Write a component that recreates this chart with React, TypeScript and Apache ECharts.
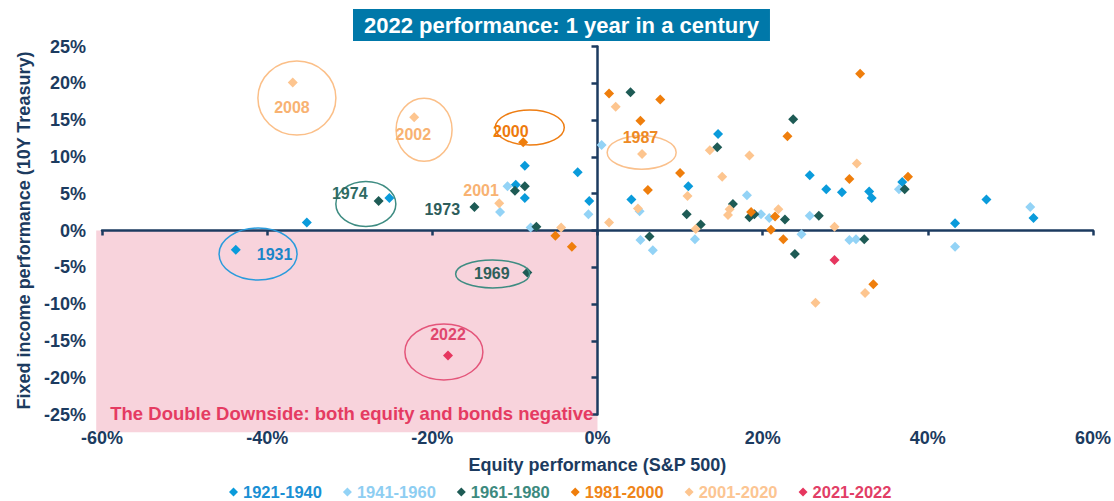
import React, { useEffect, useRef } from "react";
import * as echarts from "echarts";

// ---------- data ----------
const periods = ["1921-1940", "1941-1960", "1961-1980", "1981-2000", "2001-2020", "2021-2022"];

// [S&P 500 return %, 10Y Treasury return %]
const p1921_1940 = [
  [-8.8, 8.8], [-2.4, 7.9], [-9.9, 6.2], [-8.8, 4.4], [-1.0, 4.0], [-25.2, 4.4], [-35.2, 1.1],
  [-43.8, -2.6], [4.1, 4.2], [11.0, 6.0], [14.6, 13.1], [25.7, 7.5], [27.7, 5.6], [29.6, 5.2],
  [32.9, 5.3], [33.2, 4.4], [36.9, 6.6], [43.3, 1.0], [47.1, 4.2], [52.8, 1.7],
];
const p1941_1960 = [
  [0.5, 11.6], [-10.9, 6.0], [-11.8, 2.5], [-1.1, 2.2], [-8.1, 0.4], [5.2, -1.3], [6.7, -2.7],
  [11.8, -1.2], [5.1, 2.6], [18.1, 4.8], [19.8, 2.2], [20.8, 1.7], [25.7, 2.0], [24.7, -0.5],
  [30.5, -1.3], [31.3, -1.2], [36.5, 5.6], [43.3, -2.2], [52.4, 3.2],
];
const p1961_1980 = [
  [-26.5, 4.0], [-14.9, 3.2], [-10.0, 5.4], [-8.8, 6.0], [-7.4, 0.5], [-8.5, -5.7], [4.0, 18.8],
  [6.3, -0.8], [10.8, 2.2], [12.5, 0.8], [14.5, 11.3], [16.4, 3.6], [18.4, 1.8], [19.0, 2.2],
  [22.7, 1.5], [23.7, 15.1], [23.9, -3.2], [26.8, 2.0], [32.3, -1.2], [37.2, 5.6],
];
const p1981_2000 = [
  [-9.0, 12.0], [-5.1, -0.7], [-3.1, -2.2], [1.4, 18.6], [7.6, 17.8], [5.2, 14.9], [6.1, 5.5],
  [10.0, 7.8], [18.6, 2.5], [21.5, 1.9], [21.0, 0.1], [22.5, -1.2], [23.0, 12.8], [31.8, 21.3],
  [30.5, 7.0], [37.6, 7.3], [33.4, -7.3],
];
const p2001_2020 = [
  [-36.9, 20.1], [-22.2, 15.4], [-11.9, 3.7], [-4.4, 0.4], [2.2, 16.8], [5.4, 10.4], [1.4, 1.1],
  [4.9, 3.0], [10.9, 4.7], [11.9, 0.2], [13.6, 10.9], [15.1, 7.3], [16.0, 2.9], [15.8, 2.1],
  [18.4, 10.2], [21.9, 2.9], [28.7, 0.5], [31.4, 9.1], [32.4, -8.5], [26.4, -9.8],
];
const p2021_2022 = [[28.7, -4.0], [-18.1, -17.0]];

const seriesData = [p1921_1940, p1941_1960, p1961_1980, p1981_2000, p2001_2020, p2021_2022];

const xMin = -60, xMax = 60, xStep = 20;
const yMin = -25, yMax = 25, yStep = 5;

const TITLE = "2022 performance: 1 year in a century";
const X_NAME = "Equity performance (S&P 500)";
const Y_NAME = "Fixed income performance (10Y Treasury)";
const DOWNSIDE = "The Double Downside: both equity and bonds negative";

// annotation texts (year labels) and anchors in data units
const labelTexts = ["2008", "2002", "2000", "1987", "2001", "1974", "1973", "1931", "1969", "2022"];
const labelAnchors = [
  [-37.0, 16.7], [-22.3, 13.1], [-10.5, 13.4], [5.2, 12.7], [-14.1, 5.4],
  [-30.0, 5.05], [-18.8, 2.9], [-39.1, -3.3], [-12.8, -5.8], [-18.1, -14.1],
];
const ringAnchors = [
  [-36.4, 18.0], [-21.0, 13.7], [-8.2, 14.0], [5.35, 10.6], [-28.05, 3.6],
  [-41.1, -3.2], [-12.7, -5.9], [-18.6, -16.5],
];

// ---------- styles ----------
const pointColors = ["#0A9BDB", "#93D3F6", "#1E5B55", "#EF7E0C", "#FDC58F", "#E6365F"];
const legendTextColors = ["#1A90D4", "#8ECEF2", "#3D8A7F", "#EF8519", "#FCC592", "#E23E66"];
const labelColors = ["#F8B272", "#F8B272", "#EE7A0C", "#EE8A24", "#F8B272", "#2E6B63", "#2E5D5B", "#1B86C8", "#2E5F5A", "#E0466D"];
const ringStyles = [
  { rx: 39, ry: 37, color: "#FBBF88" },
  { rx: 28, ry: 31.5, color: "#FBBF88" },
  { rx: 34.5, ry: 17.5, color: "#EE7D12" },
  { rx: 34.5, ry: 16.7, color: "#FAC08C" },
  { rx: 30, ry: 22.5, color: "#3E8C82" },
  { rx: 39, ry: 26, color: "#2A9BDC" },
  { rx: 37, ry: 14, color: "#3E8C82" },
  { rx: 39, ry: 28, color: "#E4557A" },
];
const NAVY = "#1C3B60";
const FONT = "'Liberation Sans', Arial, sans-serif";

export default function App() {
  const ref = useRef<HTMLDivElement>(null);

  useEffect(() => {
    const chart = echarts.init(ref.current!, null, { renderer: "svg" });
    const pct = (v: number) => `${v}%`;

    chart.setOption({
      animation: false,
      backgroundColor: "#ffffff",
      textStyle: { fontFamily: FONT },
      title: {
        text: TITLE,
        left: 353,
        top: 9,
        padding: [5, 11, 5, 11],
        backgroundColor: "#0078A9",
        textStyle: { color: "#ffffff", fontSize: 22, fontWeight: "bold", fontFamily: FONT, lineHeight: 22 },
      },
      grid: { left: 102, right: 20, top: 46.5, bottom: 86.5 },
      legend: {
        left: 229,
        top: 483,
        padding: 0,
        icon: "diamond",
        itemWidth: 9,
        itemHeight: 9,
        itemGap: 21,
        selectedMode: false,
        data: periods.map((p, i) => ({ name: p, textStyle: { color: legendTextColors[i] } })),
        textStyle: { fontSize: 16.5, fontWeight: "bold", fontFamily: FONT, lineHeight: 18 },
      },
      xAxis: [
        {
          type: "value", min: xMin, max: xMax, interval: xStep,
          axisLine: { onZero: true, onZeroAxisIndex: 0, lineStyle: { color: NAVY, width: 2.5 } },
          axisTick: { show: true, length: 5, lineStyle: { color: NAVY, width: 2.5 } },
          axisLabel: { show: false },
          splitLine: { show: false },
        },
        {
          type: "value", min: xMin, max: xMax, interval: xStep, position: "bottom",
          axisLine: { show: false, onZero: false },
          axisTick: { show: false },
          splitLine: { show: false },
          axisLabel: { formatter: pct, margin: 14, color: NAVY, fontSize: 18, fontWeight: "bold", fontFamily: FONT },
          name: X_NAME, nameLocation: "middle", nameGap: 41,
          nameTextStyle: { color: NAVY, fontSize: 18, fontWeight: "bold", fontFamily: FONT },
        },
      ],
      yAxis: [
        {
          type: "value", min: yMin, max: yMax, interval: yStep,
          axisLine: { onZero: true, onZeroAxisIndex: 0, lineStyle: { color: NAVY, width: 2.5 } },
          axisTick: { show: true, length: 6, lineStyle: { color: NAVY, width: 2.5 } },
          axisLabel: { show: false },
          splitLine: { show: false },
        },
        {
          type: "value", min: yMin, max: yMax, interval: yStep, position: "left",
          axisLine: { show: false, onZero: false },
          axisTick: { show: false },
          splitLine: { show: false },
          axisLabel: { formatter: pct, margin: 16, color: NAVY, fontSize: 18, fontWeight: "bold", fontFamily: FONT },
          name: Y_NAME, nameLocation: "middle", nameGap: 68, nameRotate: 90,
          nameTextStyle: { color: NAVY, fontSize: 18, fontWeight: "bold", fontFamily: FONT },
        },
      ],
      series: periods.map((p, i) => ({
        name: p,
        type: "scatter",
        xAxisIndex: 0,
        yAxisIndex: 0,
        symbol: "diamond",
        symbolSize: 10,
        itemStyle: { color: pointColors[i], opacity: 1 },
        data: seriesData[i],
        z: 5,
      })),
    });

    const toPx = (v: number[]) => chart.convertToPixel({ xAxisIndex: 0, yAxisIndex: 0 }, v) as number[];
    const [ax0, ay0] = toPx([-60.7, 0]);
    const [ax1, ay1] = toPx([0, -27.4]);
    const [tx, ty] = toPx([-59.0, -24.8]);

    chart.setOption({
      graphic: [
        {
          type: "rect", z: -100, silent: true,
          shape: { x: ax0, y: ay0, width: ax1 - ax0, height: ay1 - ay0 },
          style: { fill: "#F8D3DC" },
        },
        {
          type: "text", z: 50, silent: true, x: tx, y: ty,
          style: { text: DOWNSIDE, fill: "#E53B62", fontSize: 18.5, fontWeight: "bold", fontFamily: FONT, align: "left", verticalAlign: "middle" },
        },
        ...ringAnchors.map((a, i) => {
          const [cx, cy] = toPx(a);
          return {
            type: "ellipse", z: 50, silent: true,
            shape: { cx, cy, rx: ringStyles[i].rx, ry: ringStyles[i].ry },
            style: { fill: "none", stroke: ringStyles[i].color, lineWidth: 1.5 },
          };
        }),
        ...labelAnchors.map((a, i) => {
          const [x, y] = toPx(a);
          return {
            type: "text", z: 60, silent: true, x, y,
            style: { text: labelTexts[i], fill: labelColors[i], fontSize: 16, fontWeight: "bold", fontFamily: FONT, align: "center", verticalAlign: "middle" },
          };
        }),
      ],
    });

    return () => chart.dispose();
  }, []);

  return <div ref={ref} style={{ position: "fixed", left: 0, top: 0, width: 1114, height: 501 }} />;
}
